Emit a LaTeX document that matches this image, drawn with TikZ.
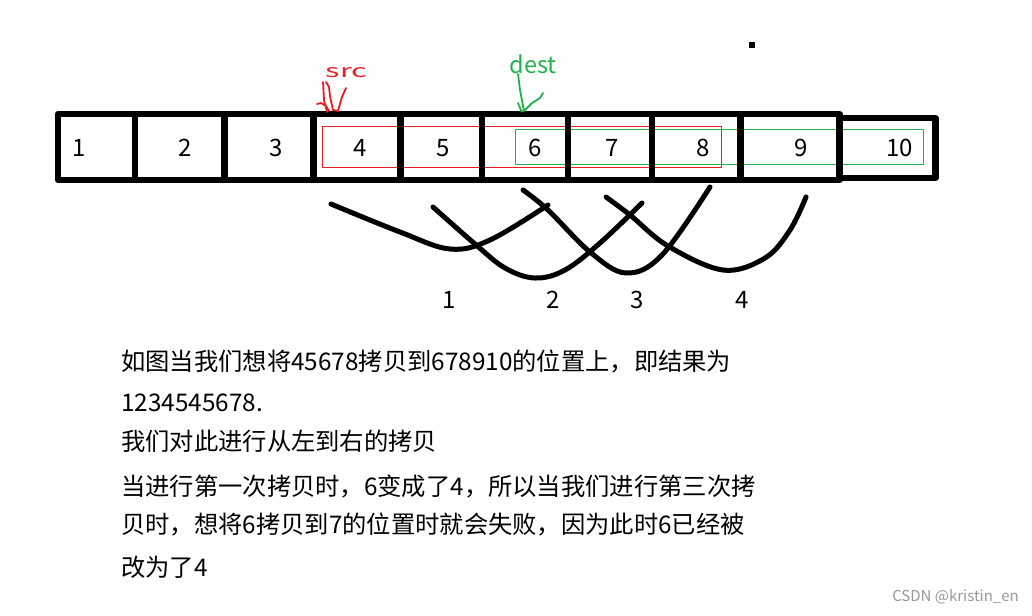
\documentclass[tikz,border=0pt]{standalone}
\usepackage{fontspec}
\setmainfont{Noto Sans CJK SC}
\definecolor{paintred}{HTML}{ED1C24}
\definecolor{paintgreen}{HTML}{22B14C}

\begin{document}
\begin{tikzpicture}[
  x = 1pt,
  y = -1pt,
  line join=round,
  cellbox/.style={draw, line width=6.5pt, inner sep=0pt},
  num/.style={font=\fontsize{24pt}{28pt}\selectfont, anchor=base, inner sep=0pt},
  txtline/.style={font=\fontsize{24.3pt}{28pt}\selectfont, anchor=base west, inner sep=0pt},
  copyarc/.style={line width=5pt, line cap=round},
  scribble/.style={line width=1.8pt, line cap=round}
]
  % canvas
  \fill[white] (0,0) rectangle (1032,615);
  \useasboundingbox (0,0) rectangle (1032,615);

  % src / dest ranges
  \draw[paintred, line width=1pt]   (322,126) rectangle (721,167);
  \draw[paintgreen, line width=1pt] (515,129) rectangle (923,164);

  % array cells
  \foreach \xa/\xb/\ya/\yb/\v/\tx [count=\i] in {
      58/135/114/180/1/79, 135/224.5/114/180/2/185, 224.5/313.5/114/180/3/276,
      313.5/400.5/114/180/4/360, 400.5/482/114/180/5/443.5, 482/568/114/180/6/535,
      568/652/114/180/7/612.5, 652/740.5/114/180/8/703, 740.5/839.5/114/180/9/801,
      839.5/935.5/118/178/10/899.5} {
    \node[cellbox, minimum width={(\xb-\xa)*1pt}, minimum height={(\yb-\ya)*1pt}]
      (c\i) at ({(\xa+\xb)/2},{(\ya+\yb)/2}) {};
    \node[num] (n\i) at (\tx,156.5) {\v};
  }

  % pointers
  \node[text=paintred, inner sep=0pt, font=\fontsize{18pt}{20pt}\selectfont]
    (src) at (346.5,73) {\scalebox{1.7}[1]{src}};
  \draw[paintred, scribble] (323,82) -- (324,100) -- (327,112);
  \draw[paintred, scribble] (326,82) -- (329,87) -- (330,96) -- (333,110) -- (338,111);
  \draw[paintred, scribble] (346,88) -- (342,97) -- (340,104) -- (338,111);
  \draw[paintred, scribble] (317,104) -- (321,103) -- (326,106) -- (329,111);

  \node[text=paintgreen, anchor=base, inner sep=0pt, font=\fontsize{23.5pt}{26pt}\selectfont]
    (dest) at (533,73.5) {dest};
  \draw[paintgreen, scribble] (518,74) -- (520,90) -- (522.5,103) -- (524,111);
  \draw[paintgreen, scribble] (518,103) -- (521.5,111.5);
  \draw[paintgreen, scribble] (543,93) -- (540,98) -- (532,103) -- (525,110) -- (521.5,111.5);

  % stray dot
  \fill (749,42) rectangle (755,48);

  % copy steps
  \draw[copyarc] plot[smooth, tension=0.6] coordinates
    {(331,204) (400,232) (450,249) (490,240) (548,205)};
  \draw[copyarc] plot[smooth, tension=0.6] coordinates
    {(433,207) (475,244) (505,268) (535,278) (565,270) (600,243) (642,203)};
  \draw[copyarc] plot[smooth, tension=0.6] coordinates
    {(523,190) (548,210) (590,252) (626,273) (662,255) (710,187)};
  \draw[copyarc] plot[smooth, tension=0.6] coordinates
    {(606,197) (630,215) (668,246) (723,270) (765,258) (790,230) (806,197)};

  \node[num] (k1) at (449.3,308.3) {1};
  \node[num] (k2) at (553.3,308.3) {2};
  \node[num] (k3) at (637.3,308.3) {3};
  \node[num] (k4) at (741.7,308.3) {4};

  % explanation
  \node[txtline] (t1) at (121,370.5) {如图当我们想将45678拷贝到678910的位置上，即结果为};
  \node[txtline] (t2) at (121,411.5) {1234545678.};
  \node[txtline] (t3) at (121,450.5) {我们对此进行从左到右的拷贝};
  \node[txtline] (t4) at (121,495) {当进行第一次拷贝时，6变成了4，所以当我们进行第三次拷};
  \node[txtline] (t5) at (121,533.5) {贝时，想将6拷贝到7的位置时就会失败，因为此时6已经被};
  \node[txtline] (t6) at (121,576) {改为了4};

  % watermark
  \node[anchor=east, inner sep=0pt, text=black!40, font=\fontsize{15pt}{18pt}\selectfont]
    (wm) at (1019,597) {CSDN @kristin\_en};
\end{tikzpicture}
\end{document}
